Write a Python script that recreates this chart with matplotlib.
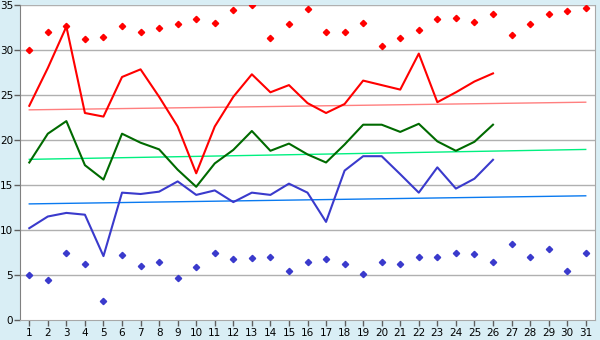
import matplotlib
matplotlib.use('Agg')
import matplotlib.pyplot as plt

days = list(range(1, 32))
line_days = list(range(1, 27))

max_points = [30.0, 32.0, 32.7, 31.2, 31.4, 32.7, 32.0, 32.4, 32.85, 33.4,
              32.96, 34.5, 34.96, 31.3, 32.85, 34.6, 32.0, 32.0, 32.96, 30.5,
              31.3, 32.2, 33.4, 33.6, 33.1, 33.96, 31.7, 32.85, 33.96, 34.3, 34.7]
min_points = [5.0, 4.5, 7.5, 6.2, 2.1, 7.2, 5.96, 6.4, 4.7, 5.85,
              7.5, 6.74, 6.85, 6.96, 5.5, 6.4, 6.74, 6.2, 5.07, 6.4,
              6.2, 6.96, 6.96, 7.5, 7.3, 6.5, 8.5, 6.96, 7.85, 5.5, 7.5]

red_line = [23.8, 28.0, 32.6, 23.0, 22.6, 27.0, 27.85, 24.8, 21.5, 16.3,
            21.5, 24.8, 27.3, 25.3, 26.1, 24.1, 23.0, 24.0, 26.6, 26.1,
            25.6, 29.6, 24.2, 25.3, 26.5, 27.4]
green_line = [17.5, 20.7, 22.1, 17.2, 15.6, 20.7, 19.7, 18.96, 16.7, 14.8,
              17.4, 18.9, 21.0, 18.8, 19.6, 18.4, 17.5, 19.5, 21.7, 21.7,
              20.9, 21.8, 19.85, 18.8, 19.8, 21.7]
blue_line = [10.2, 11.5, 11.9, 11.7, 7.1, 14.15, 14.0, 14.26, 15.4, 13.9,
             14.4, 13.1, 14.15, 13.9, 15.15, 14.15, 10.9, 16.6, 18.2, 18.2,
             16.2, 14.15, 16.96, 14.6, 15.7, 17.8]

trend_days = [1, 31]
red_trend = [23.35, 24.2]
green_trend = [17.85, 18.95]
blue_trend = [12.9, 13.8]

bg = '#D9EEF5'
fig = plt.figure(figsize=(6, 3.4), dpi=100, facecolor=bg)
ax = fig.add_axes([20 / 600, 20 / 340, 575 / 600, 315 / 340])
ax.set_facecolor('white')

for y in range(5, 40, 5):
    ax.axhline(y, color='#B0B0B0', lw=1.0, zorder=1)

ax.plot(trend_days, red_trend, color='#FF7F7F', lw=1.0, zorder=2)
ax.plot(trend_days, green_trend, color='#00F080', lw=1.0, zorder=2)
ax.plot(trend_days, blue_trend, color='#0A7AF0', lw=1.0, zorder=2)

ax.plot(line_days, red_line, color='#FF0000', lw=1.5, zorder=3)
ax.plot(line_days, green_line, color='#006A00', lw=1.5, zorder=3)
ax.plot(line_days, blue_line, color='#3A3ACC', lw=1.5, zorder=3)

ax.plot(days, max_points, ls='none', marker='D', ms=3.2, color='#FF0000', zorder=4)
ax.plot(days, min_points, ls='none', marker='D', ms=3.2, color='#3A3ACC', zorder=4)

ax.set_xlim(0.5, 31.5)
ax.set_ylim(0, 35)
ax.set_xticks(days)
ax.set_yticks(range(0, 40, 5))
ax.tick_params(labelsize=7.5, length=4, width=1, color='#606060')
ax.tick_params(axis='y', pad=1)
ax.tick_params(axis='x', pad=2)

for side in ['top', 'right', 'bottom']:
    ax.spines[side].set_color('#A8A8A8')
ax.spines['left'].set_color('#808080')
ax.spines['top'].set_visible(False)

fig.savefig('out.png', facecolor=bg)
